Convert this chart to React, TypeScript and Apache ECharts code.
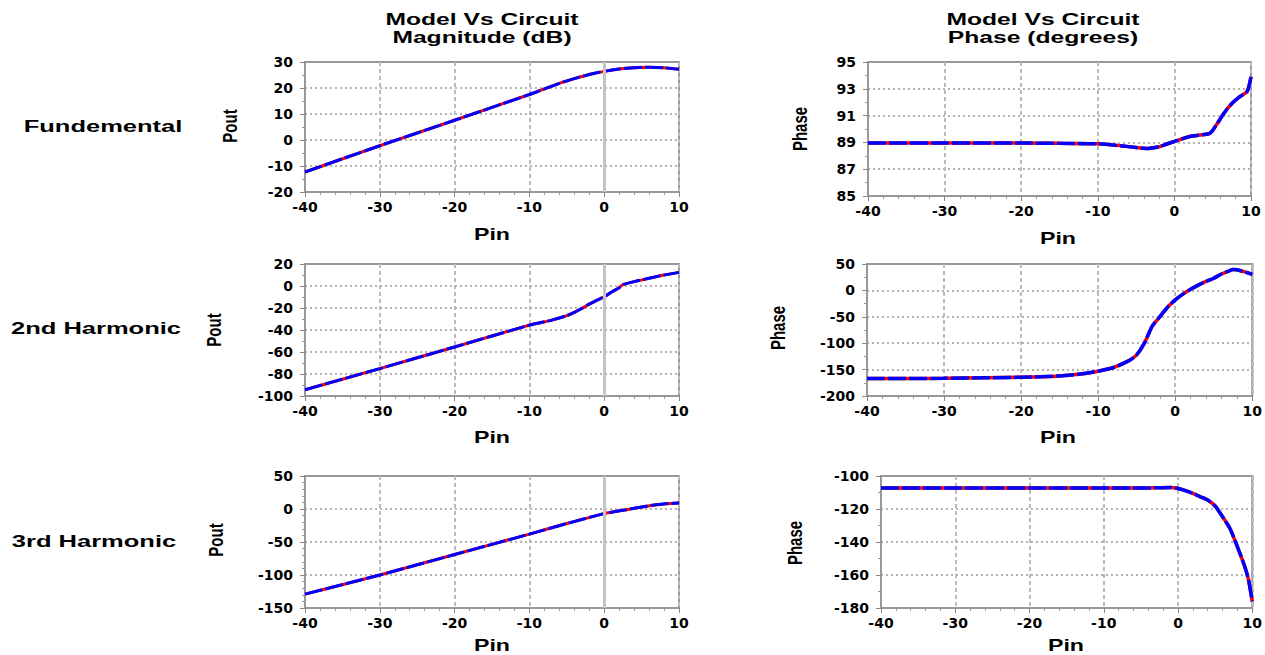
import React, { useEffect, useRef } from "react";
import * as echarts from "echarts";

// ---- data (Pin in dBm) ----
const pinFundMag = [-40, -30, -20, -10, -6, -4, -2, 0, 2, 4, 6, 8, 10];
const fundMag = [-12.3, -2.2, 7.6, 17.5, 21.8, 23.6, 25.2, 26.4, 27.3, 27.8, 28.0, 27.8, 27.2];

const pinFundPhase = [-40, -30, -20, -15, -10, -7, -5, -3.5, -2, -1, 0, 2, 4.5, 5, 6.5, 7.5, 8.5, 9.5, 10];
const fundPhase = [88.95, 88.95, 88.95, 88.93, 88.9, 88.75, 88.62, 88.55, 88.68, 88.88, 89.07, 89.44, 89.65, 89.9, 91.2, 91.9, 92.4, 92.8, 93.9];

const pinH2Mag = [-40, -30, -20, -10, -7, -5, -4, -3, -2, -1, 0, 1, 2, 2.5, 4, 6, 8, 10];
const h2Mag = [-94.3, -75.1, -55.4, -35.6, -31, -27, -24, -20.5, -16.5, -13, -9.8, -5.5, -1.5, 1.2, 4, 7, 10, 12.4];

const pinH2Phase = [-40, -30, -20, -15, -12, -10, -8, -6, -5, -4, -3, -2, -1, 0, 1, 2, 3, 4, 5, 6, 7, 7.5, 8, 9, 10];
const h2Phase = [-167, -166.5, -164.5, -162, -158, -153, -146, -133, -122, -100, -68, -50, -32, -18, -7, 2, 10, 17, 23, 31, 37, 39.5, 39, 35, 30.5];

const pinH3Mag = [-40, -30, -20, -10, -5, 0, 3, 5, 7, 9, 10];
const h3Mag = [-129, -100, -69, -38, -22, -7, -1, 3, 6.5, 8.5, 9];

const pinH3Phase = [-40, -30, -20, -10, -5, -1, 0, 1, 2, 3, 4, 5, 6, 7, 8, 9, 9.5, 10];
const h3Phase = [-107.3, -107.3, -107.3, -107.3, -107.3, -107, -107.6, -108.9, -110.5, -112.6, -114.6, -118.2, -124.7, -131.8, -142.9, -155, -163, -176];

// y-axis ranges: [min, max, interval, minorSplit]
const yRanges = [
  [-20, 30, 10, 2],
  [85, 95, 2, 2],
  [-100, 20, 20, 2],
  [-200, 50, 50, 2],
  [-150, 50, 50, 5],
  [-180, -100, 20, 2],
];

const panels = [
  { x: pinFundMag, y: fundMag, zero: true },
  { x: pinFundPhase, y: fundPhase, zero: false },
  { x: pinH2Mag, y: h2Mag, zero: true },
  { x: pinH2Phase, y: h2Phase, zero: false },
  { x: pinH3Mag, y: h3Mag, zero: true },
  { x: pinH3Phase, y: h3Phase, zero: false },
];

const rowLabels = ["Fundemental", "2nd Harmonic", "3rd Harmonic"];

const grids = [
  { left: 305, top: 62, width: 374, height: 130 },
  { left: 868, top: 62, width: 383, height: 134 },
  { left: 305, top: 264, width: 374, height: 132 },
  { left: 867, top: 264, width: 386, height: 132 },
  { left: 305, top: 476, width: 374, height: 132 },
  { left: 881, top: 476, width: 372, height: 132 },
];

const FONT = '"Liberation Sans", Arial, sans-serif';
const TICKFONT = '"DejaVu Sans", sans-serif';

function txt(text: string, x: number, y: number, size: number, sx: number, rot = false) {
  return {
    type: "text",
    x,
    y,
    rotation: rot ? Math.PI / 2 : 0,
    scaleX: rot ? 1 : sx,
    scaleY: rot ? sx : 1,
    silent: true,
    style: {
      text,
      fill: "#000",
      fontFamily: FONT,
      fontWeight: "bold",
      fontSize: size,
      font: `bold ${size}px ${FONT}`,
      align: "center",
      verticalAlign: "middle",
      textAlign: "center",
      textVerticalAlign: "middle",
    },
  };
}

export default function App() {
  const ref = useRef<HTMLDivElement>(null);
  useEffect(() => {
    document.body.style.margin = "0";
    const chart = echarts.init(ref.current!, null, { renderer: "svg" });

    const xAxes = grids.map((_, i) => ({
      type: "value",
      gridIndex: i,
      min: -40,
      max: 10,
      interval: 10,
      axisLine: { show: true, onZero: false, lineStyle: { color: "#999", width: 2 } },
      axisTick: { show: true, length: 5, lineStyle: { color: "#888", width: 1 } },
      minorTick: { show: true, splitNumber: 5, length: 3, lineStyle: { color: "#999" } },
      axisLabel: { color: "#000", fontFamily: TICKFONT, fontWeight: "bold", fontSize: 14, margin: 8 },
      splitLine: { show: true, lineStyle: { color: "#bbb", type: [4, 3], width: 2 } },
    }));

    const yAxes = grids.map((_, i) => {
      const [min, max, interval, ms] = yRanges[i];
      return {
        type: "value",
        gridIndex: i,
        min,
        max,
        interval,
        axisLine: { show: true, onZero: false, lineStyle: { color: "#999", width: 2 } },
        axisTick: { show: true, length: 5, lineStyle: { color: "#888", width: 1 } },
        minorTick: { show: true, splitNumber: ms, length: 3, lineStyle: { color: "#999" } },
        axisLabel: { color: "#000", fontFamily: TICKFONT, fontWeight: "bold", fontSize: 14, margin: 12 },
        splitLine: { show: true, lineStyle: { color: "#999", type: [2, 3], width: 1.5 } },
      };
    });

    const series: any[] = [];
    panels.forEach((p, i) => {
      const data = p.x.map((v, k) => [v, p.y[k]]);
      series.push({
        name: "Circuit",
        type: "line",
        xAxisIndex: i,
        yAxisIndex: i,
        data,
        smooth: 0.2,
        showSymbol: false,
        z: 3,
        lineStyle: { color: "#ff0000", width: i % 2 ? 3.5 : 3 },
        markLine: p.zero
          ? {
              silent: true,
              symbol: ["none", "none"],
              label: { show: false },
              lineStyle: { color: "#c4c4c4", type: "solid", width: 3 },
              data: [{ xAxis: 0 }],
            }
          : undefined,
      });
      series.push({
        name: "Model",
        type: "line",
        xAxisIndex: i,
        yAxisIndex: i,
        data,
        smooth: 0.2,
        showSymbol: false,
        z: 4,
        lineStyle: { color: "#0000ff", width: i % 2 ? 3.5 : 3, type: [18, 3] },
      });
    });

    const graphic = [
      txt("Model Vs Circuit", 482, 19, 17, 1.45),
      txt("Magnitude (dB)", 482, 37, 17, 1.45),
      txt("Model Vs Circuit", 1043, 19, 17, 1.45),
      txt("Phase (degrees)", 1043, 37, 17, 1.45),
      txt(rowLabels[0], 103, 126, 17, 1.5),
      txt(rowLabels[1], 96, 328, 17, 1.5),
      txt(rowLabels[2], 94, 541, 17, 1.5),
      txt("Pout", 230, 126, 15, 1.4, true),
      txt("Pout", 214, 330, 15, 1.4, true),
      txt("Pout", 216, 540, 15, 1.4, true),
      txt("Phase", 800, 129, 15, 1.4, true),
      txt("Phase", 778, 328, 15, 1.4, true),
      txt("Phase", 795, 543, 15, 1.4, true),
      txt("Pin", 492, 234, 16, 1.45),
      txt("Pin", 1058, 238, 16, 1.45),
      txt("Pin", 492, 437, 16, 1.45),
      txt("Pin", 1058, 437, 16, 1.45),
      txt("Pin", 492, 645, 16, 1.45),
      txt("Pin", 1066, 645, 16, 1.45),
    ];

    chart.setOption({
      animation: false,
      backgroundColor: "#fff",
      grid: grids.map((g) => ({ ...g, show: true, borderColor: "#999", borderWidth: 2, containLabel: false })),
      xAxis: xAxes,
      yAxis: yAxes,
      series,
      graphic,
    } as any);
    return () => chart.dispose();
  }, []);
  return <div ref={ref} style={{ width: 1265, height: 655 }} />;
}
